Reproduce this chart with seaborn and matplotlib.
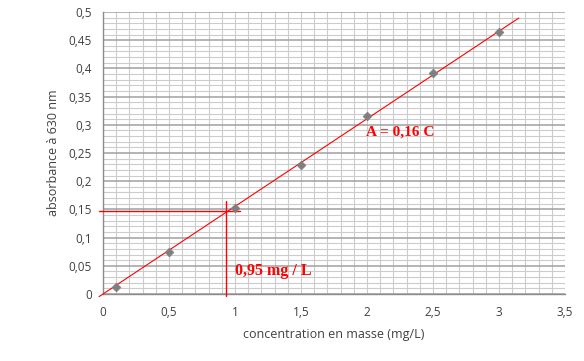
import numpy as np
import pandas as pd
import matplotlib
matplotlib.use("Agg")
import matplotlib.pyplot as plt
import seaborn as sns
from matplotlib.ticker import FuncFormatter, MultipleLocator

concentration = [0.1, 0.5, 1.0, 1.5, 2.0, 2.5, 3.0]
absorbance = [0.012, 0.075, 0.152, 0.228, 0.315, 0.391, 0.465]
trend_x = [-0.03, 3.15]
C_read = 0.95
A_read = 0.147
eq_label = "A = 0,16 C"
read_label = "0,95 mg / L"
x_label = "concentration en masse (mg/L)"
y_label = "absorbance à 630 nm"

sns.set_style("white")
plt.rcParams['font.family'] = ['Open Sans', 'DejaVu Sans']

df = pd.DataFrame({"C": concentration, "A": absorbance})
x = np.array(concentration)
y = np.array(absorbance)
slope = np.sum(x * y) / np.sum(x * x)
trend = pd.DataFrame({"C": trend_x, "A": [slope * v for v in trend_x]})

fig = plt.figure(figsize=(5.84, 3.61), dpi=100)
ax = fig.add_axes([0.1764, 0.1856, 0.9675 - 0.1764, 0.9668 - 0.1856])

ax.set_xlim(0, 3.5)
ax.set_ylim(0, 0.5)
ax.xaxis.set_major_locator(MultipleLocator(0.5))
ax.xaxis.set_minor_locator(MultipleLocator(0.1))
ax.yaxis.set_major_locator(MultipleLocator(0.05))
ax.yaxis.set_minor_locator(MultipleLocator(0.01))
ax.grid(which='major', axis='y', color='#a0a0a0', linewidth=1.1)
ax.grid(which='minor', axis='y', color='#cccccc', linewidth=0.8)
ax.grid(which='both', axis='x', color='#cccccc', linewidth=0.8)
ax.set_axisbelow(True)

fmt = FuncFormatter(lambda v, p: ('{:g}'.format(round(v, 3))).replace('.', ','))
ax.xaxis.set_major_formatter(fmt)
ax.yaxis.set_major_formatter(fmt)
ax.tick_params(axis='both', which='major', labelsize=8.5, colors='#404040',
               length=4, width=0.8, color='#8c8c8c', direction='out')
ax.tick_params(axis='both', which='minor', length=0)
ax.tick_params(axis='x', pad=5)
ax.tick_params(axis='y', pad=4)
for lab in ax.get_xticklabels() + ax.get_yticklabels():
    lab.set_color('#404040')

for s in ['top', 'right']:
    ax.spines[s].set_visible(False)
ax.spines['left'].set_color('#8c8c8c')
ax.spines['bottom'].set_color('#8c8c8c')
ax.spines['left'].set_linewidth(1.0)
ax.spines['bottom'].set_linewidth(1.0)

sns.lineplot(data=trend, x="C", y="A", ax=ax, color='#ff0000', linewidth=0.8,
             clip_on=False, zorder=3)
sns.scatterplot(data=df, x="C", y="A", ax=ax, marker='D', s=20, color='#7f7f7f',
                edgecolor='#7f7f7f', linewidth=0.5, zorder=4, clip_on=False)

# reading construction lines
ax.plot([-0.03, 1.04], [A_read, A_read], color='#ff0000', linewidth=1.0,
        clip_on=False, zorder=3)
ax.plot([C_read - 0.015, C_read - 0.015], [0.164, -0.004], color='#ff0000',
        linewidth=1.0, clip_on=False, zorder=3)

ax.text(1.0, 0.041, read_label, color='#ff0000', fontsize=11.5, fontweight='bold',
        family=['Liberation Serif'], va='center', ha='left')
ax.text(1.99, 0.288, eq_label, color='#ff0000', fontsize=11, fontweight='bold',
        family=['Liberation Serif'], va='center', ha='left')

ax.set_xlabel(x_label, fontsize=9, color='#404040', labelpad=6)
ax.set_ylabel(y_label, fontsize=9, color='#404040', labelpad=6)

fig.savefig("out.png", dpi=100)
